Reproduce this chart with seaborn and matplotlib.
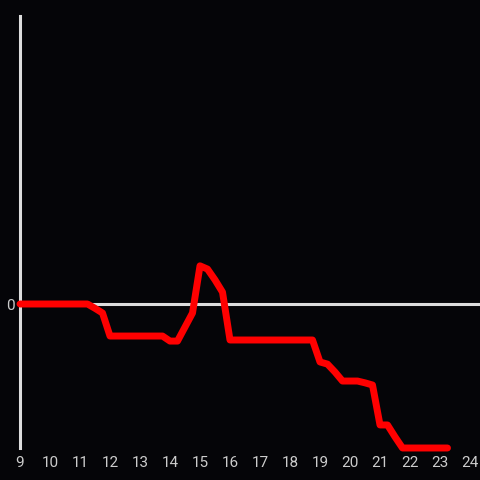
import matplotlib
matplotlib.use("Agg")
import matplotlib.pyplot as plt
import seaborn as sns
import numpy as np
import pandas as pd

# quarter-hour samples from 9:00 to 23:15
hours = np.arange(9, 23.26, 0.25)
values = [0, 0, 0, 0, 0, 0, 0, 0, 0, 0,
          -0.12, -0.25, -0.89, -0.89, -0.89, -0.89, -0.89, -0.89, -0.89, -0.89,
          -1.03, -1.03, -0.64, -0.25, 1.06, 0.97, 0.67, 0.33,
          -1.0, -1.0, -1.0, -1.0, -1.0, -1.0, -1.0, -1.0, -1.0, -1.0, -1.0, -1.0,
          -1.61, -1.67, -1.89, -2.14, -2.14, -2.14, -2.19, -2.25,
          -3.36, -3.36, -3.69, -4.0, -4.0, -4.0, -4.0, -4.0, -4.0, -4.0]
xticks = list(range(9, 25))

df = pd.DataFrame({"hour": hours, "value": values})

bg = "#050508"
sns.set_style("dark", {"axes.facecolor": bg, "figure.facecolor": bg})
plt.rcParams["font.family"] = ["Roboto", "DejaVu Sans"]

fig = plt.figure(figsize=(4.8, 4.8), dpi=100)
ax = fig.add_axes([20 / 480, 32 / 480, 460 / 480, 432 / 480])
ax.set_facecolor(bg)

ax.axhline(0, color="#dddddd", lw=2.2, zorder=1)
sns.lineplot(data=df, x="hour", y="value", color="#ff0000", lw=5, ax=ax,
             zorder=3, clip_on=False)

ax.set_xlim(9, 9 + 460 / 30)
ax.set_ylim(-4, 8)
ax.set_xticks(xticks)
ax.set_xticklabels([str(t) for t in xticks])
ax.set_yticks([0])
ax.set_yticklabels(["0"])
ax.tick_params(colors="#cccccc", length=0, labelsize=11)
ax.tick_params(axis="x", pad=6)
ax.tick_params(axis="y", pad=3.5)
ax.set_xlabel("")
ax.set_ylabel("")
ax.grid(False)

for side in ["top", "right", "bottom"]:
    ax.spines[side].set_visible(False)
ax.spines["left"].set_color("#dddddd")
ax.spines["left"].set_linewidth(2.2)

fig.savefig("out.png", dpi=100, facecolor=bg)
